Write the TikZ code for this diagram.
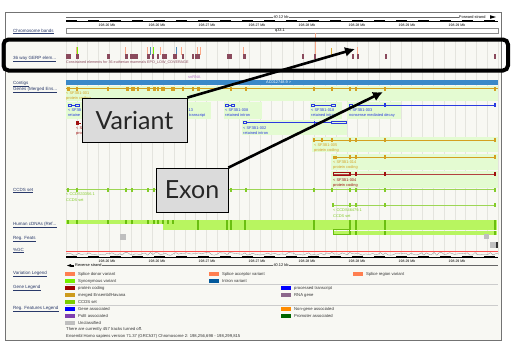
\documentclass[tikz,border=0pt]{standalone}
\usepackage{fontspec}
\setmainfont{Liberation Sans}
\newfontfamily\calfont{Lato}
\usetikzlibrary{arrows.meta}
\definecolor{panelbg}{HTML}{F8F8F3}
\definecolor{gridc}{HTML}{E4E4DE}
\definecolor{lblc}{HTML}{2A3A6A}
\definecolor{gerp}{HTML}{8A4A5C}
\definecolor{contig}{HTML}{3A88C8}
\definecolor{goldc}{HTML}{D4A020}
\definecolor{bgreen}{HTML}{E4FBD2}
\definecolor{tblue}{HTML}{2A3AE0}
\definecolor{tred}{HTML}{A01010}
\definecolor{ccds}{HTML}{84CC2A}
\definecolor{cdna}{HTML}{B8F560}
\definecolor{cdnad}{HTML}{6BBF10}
\definecolor{salmon}{HTML}{F8A888}
\definecolor{snrna}{HTML}{B070C0}
\definecolor{coral}{HTML}{FF7F50}
\definecolor{lime}{HTML}{76EE00}
\definecolor{intronc}{HTML}{02599C}
\definecolor{pcod}{HTML}{A00000}
\definecolor{mergc}{HTML}{CD9B1D}
\definecolor{ccdsl}{HTML}{7CCD00}
\definecolor{rnag}{HTML}{8B668B}
\definecolor{polii}{HTML}{7F3FAF}
\definecolor{nongene}{HTML}{FF8C00}
\definecolor{promo}{HTML}{006400}
\def\ddd{...}
\tikzset{
  tiny/.style={font=\fontsize{3.9}{4.2}\selectfont, inner sep=0pt, anchor=west},
  lbl/.style={font=\fontsize{4.5}{5}\selectfont, inner sep=0pt, anchor=west, text=lblc},
  ulin/.style={lblc, line width=0.25pt},
  leg/.style={font=\fontsize{4.2}{4.6}\selectfont, inner sep=0pt, anchor=west, text=black!80},
  callout/.style={draw=black, line width=0.8pt, fill=black!14, font=\calfont\fontsize{25}{28}\selectfont, inner sep=0pt, text=black!85},
  arr/.style={line width=2.6pt, -{Latex[length=10pt,width=10pt]}},
}
\begin{document}
\begin{tikzpicture}[x=1pt,y=-1pt]
\useasboundingbox (0,0) rectangle (513,346);
\fill[white] (0,0) rectangle (513,346);
% panel
\fill[panelbg, draw=black!55, line width=0.8pt] (5,12) rectangle (501,340);
\fill[white] (5.5,12.5) rectangle (500.5,37);
% grid
\foreach \i in {0,...,40} \draw[gridc, line width=0.4pt] ({66+\i*10.8},40) -- ({66+\i*10.8},255);
% top ruler
\node[tiny, anchor=center] (kbtop) at (281,17) {40.12 kb};
\node[tiny] (fwd) at (459,17) {Forward strand};
\coordinate (rl) at (66,17);
\draw[black!60, line width=0.3pt] (rl) -- (kbtop.west);
\draw[black!60, line width=0.3pt] (kbtop.east) -- (fwd.west);
\fill[black] (490,17) -- ++(0,-1.8) -- ++(6,1.8) -- ++(-6,1.8) -- cycle;
\draw[line width=0.3pt] (66,21) -- (498,21);
\foreach \i in {0,...,19} \fill[black] ({66+\i*22},20) rectangle ++(11,2);
\foreach \x/\t in {107/198.26,157/198.26,207/198.27,257/198.27,307/198.28,357/198.28,407/198.29,457/198.29} \node[tiny, anchor=center, font=\fontsize{3.5}{4}\selectfont] at (\x,25) {\t\ Mb};
% chromosome bands
\draw[black!45, fill=white, line width=0.3pt] (66,28) rectangle (498,33);
\node[tiny, anchor=center] (band) at (280,30.5) {q33.1};
% left labels
\foreach \n/\y/\t in {a/30.5/{Chromosome bands}, b/58/{36 way GERP elem\ddd}, c/83/{Contigs}, d/89.5/{Genes (Merged Ens\ddd}, e/190/{CCDS set}, f/224/{Human cDNAs (Ref\ddd}, g/238/{Reg. Feats}, h/250/{\%GC}, i/273/{Variation Legend}, j/287/{Gene Legend}, k/308/{Reg. Features Legend}}
{ \node[lbl] (L\n) at (13,\y) {\t}; \draw[ulin] ([yshift=-0.6pt]L\n.south west) -- ([yshift=-0.6pt]L\n.south east); }
% GERP
\foreach \x in {76,125,147,160,181,197,200,243} \draw[salmon, line width=0.8pt] (\x,47) -- (\x,55);
\foreach \x in {150,176} \draw[intronc!70, line width=0.7pt] (\x,47) -- (\x,55);
\foreach \x in {77,153} \draw[lime, line width=0.7pt] (\x,47) -- (\x,55);
\draw[salmon, line width=0.8pt] (315,33) -- (315,59);
\draw[goldc!90, line width=0.8pt] (331,48) -- (331,55);
\draw[salmon, line width=0.9pt] (357,47) -- (357,56);
\foreach \x/\w in {66/5,76/3,107/3,125/3,130/8,147/3,152/2,157/2,162/5,173/4,182/2,192/2,195/5,227/5,243/3,302/1.5,314/1.5,352/1.5,357/1.5,385/1.5,494/2} \fill[gerp] (\x,54) rectangle ++(\w,5);
\node[tiny, text=gerp, font=\fontsize{3.7}{4}\selectfont] (gerptxt) at (66,62.5) {Constrained elements for 36 eutherian mammals EPO\_LOW\_COVERAGE};
% contigs
\node[tiny, text=snrna] (snrna) at (188,77) {snRNA};
\fill[contig] (66,80) rectangle (498,85);
\node[tiny, text=white] (ctg) at (266,82.5) {AC012748.9 >};
% gene SF3B1-001
\fill[bgreen] (66,86) rectangle (498,101);
\draw[goldc, line width=0.5pt] (66,88.5) -- (498,88.5);
\foreach \x/\w in {68/3,77/2,108/2,127/3,133/4,138/2,148/3,154/3,158/2,163/4,173/4,183/2,193/2,198/3,231/2,246/2,314/1.5,332/1.5,350/2,356/2,385/2,495/1.5} \fill[goldc] (\x-\w/2,86.5) rectangle ++(\w,4);
\node[tiny, text=goldc] (g1a) at (66,93) {< SF3B1-001};
\node[tiny, text=goldc] (g1b) at (66,98.5) {protein coding};
% blue transcripts row
\fill[bgreen] (66,102) rectangle (211,119);
\fill[bgreen] (224,102) rectangle (262,119);
\fill[bgreen] (310,102) rectangle (342,119);
\fill[bgreen] (347,102) rectangle (401,119);
\fill[bgreen] (242,120) rectangle (347,135);
\draw[tblue, line width=0.4pt] (68,104) rectangle ++(3,2); \draw[tblue, line width=0.4pt] (71,105) -- (75,105); \draw[tblue, line width=0.4pt] (75,104) rectangle ++(4,2);
\node[tiny, text=tblue] (t11a) at (68,110) {< SF3B};
\node[tiny, text=tblue] (t11b) at (68,115.5) {retaine};
\node[tiny, text=tblue] (t13a) at (188.5,110) {13};
\node[tiny, text=tblue] (t13b) at (189,115.5) {transcript};
\draw[tblue, line width=0.4pt] (225,104) rectangle ++(3,2); \draw[tblue, line width=0.4pt] (228,105) -- (231,105); \draw[tblue, line width=0.4pt] (231,104) rectangle ++(3,2);
\node[tiny, text=tblue] (t08a) at (225,110) {< SF3B1-008};
\node[tiny, text=tblue] (t08b) at (225,115.5) {retained intron};
\draw[tblue, line width=0.4pt] (311,104) rectangle ++(3,2); \draw[tblue, line width=0.4pt] (314,105) -- (331,105); \draw[tblue, line width=0.4pt] (331,104) rectangle ++(4,2);
\node[tiny, text=tblue] (t18a) at (311,110) {< SF3B1-018};
\node[tiny, text=tblue] (t18b) at (311,115.5) {retained intron};
\draw[tblue, line width=0.4pt] (349,104) rectangle ++(3,2); \draw[tblue, line width=0.4pt] (352,105) -- (495,105);
\foreach \x in {385,495} \fill[tblue] (\x-0.6,103) rectangle ++(1.2,4);
\node[tiny, text=tblue] (t03a) at (349,110) {< SF3B1-003};
\node[tiny, text=tblue] (t03b) at (349,115.5) {nonsense mediated decay};
\draw[tblue, line width=0.4pt] (243,121.5) rectangle ++(3,2); \draw[tblue, line width=0.4pt] (246,122.5) -- (331,122.5);
\draw[tblue, line width=0.4pt] (331,121.5) rectangle (346,123.5);
\fill[tblue] (313.5,121) rectangle ++(1,3);
\node[tiny, text=tblue] (t02a) at (243,128) {< SF3B1-002};
\node[tiny, text=tblue] (t02b) at (243,133.5) {retained intron};
% red transcript left (mostly hidden)
\fill[tred] (76,121) rectangle ++(3,4);
\draw[tred, line width=0.4pt] (79,123) -- (81,123);
\node[tiny, text=tred] (t06a) at (76,128.5) {< S};
\node[tiny, text=tred] (t06b) at (76,134) {pro};
% SF3B1-005
\fill[bgreen] (312,137) rectangle (498,152);
\draw[goldc, line width=0.5pt] (314,140) -- (495,140);
\foreach \x in {314,322,332,350,356,385,495} \fill[goldc] (\x-1,138) rectangle ++(2,4);
\node[tiny, text=goldc] (t05a) at (314,145) {< SF3B1-005};
\node[tiny, text=goldc] (t05b) at (314,150.5) {protein coding};
% SF3B1-014
\fill[bgreen] (331,154) rectangle (498,170);
\draw[goldc, line width=0.5pt] (333,157) -- (495,157);
\draw[goldc, line width=0.4pt] (333,156) rectangle ++(3,2);
\foreach \x in {350,356,385,495} \fill[goldc] (\x-1,155) rectangle ++(2,4);
\node[tiny, text=goldc] (t14a) at (333,162) {< SF3B1-014};
\node[tiny, text=goldc] (t14b) at (333,167.5) {protein coding};
% SF3B1-004
\fill[bgreen] (331,171) rectangle (498,188);
\draw[tred!80, line width=0.5pt] (333,174) -- (495,174);
\draw[tred, line width=0.4pt] (333,172.5) rectangle (349,175.5);
\foreach \x in {350,356,385,495} \fill[tred] (\x-1,172) rectangle ++(2,4);
\node[tiny, text=tred] (t04a) at (333,180) {< SF3B1-004};
\node[tiny, text=tred] (t04b) at (333,185.5) {protein coding};
% CCDS
\draw[ccds!80, line width=0.5pt] (66,189.5) -- (496,189.5);
\foreach \x in {68,77,108,126,132,148,154,163,173,183,193,198,231,246,314,332,350,356,385,495} \fill[ccds] (\x-1,187.5) rectangle ++(2,4);
\node[tiny, text=ccds] (c1a) at (66,194.5) {< CCDS33356.1};
\node[tiny, text=ccds] (c1b) at (66,200) {CCDS set};
\draw[ccds!80, line width=0.5pt] (333,205) -- (495,205);
\foreach \x in {333,350,356,385,495} \fill[ccds] (\x-0.8,203) rectangle ++(1.6,4);
\node[tiny, text=ccds] (c2a) at (333,210.5) {< CCDS46479.1};
\node[tiny, text=ccds] (c2b) at (333,216) {CCDS set};
% cDNA
\fill[cdna] (66,220) rectangle (163,224);
\fill[cdna] (163,220) rectangle (497,229.5);
\fill[cdna] (333,231) rectangle (497,234.5);
\draw[cdnad, line width=0.4pt] (333,229.5) rectangle (349,234.5);
\foreach \x in {68,77,108,126,132,148,154,158,163,168,173} \fill[cdnad] (\x-1,220) rectangle ++(2,3.5);
\foreach \x in {198,227,231,245,314,350,356,385,495} \fill[cdnad] (\x-0.8,219.5) rectangle ++(1.6,10);
\foreach \x in {350,356,385,495} \fill[cdnad] (\x-0.8,230.5) rectangle ++(1.6,4.5);
% Reg feats
\fill[black!25] (120,234) rectangle (126,239.5);
\fill[black!25] (484,234) rectangle (489,239);
\fill[black!25] (490,242) rectangle (497,248);
\fill[black!80] (496,242) rectangle (497.5,248);
% GC
\draw[red!70, line width=0.4pt] (66,251) -- (498,251);
\pgfmathsetseed{7}
\draw[black!45, line width=0.3pt] plot[domain=66:498, samples=170] (\x,{253.8+1.4*rand});
% bottom ruler
\draw[line width=0.3pt] (66,257) -- (498,257);
\foreach \i in {0,...,19} \fill[black] ({66+\i*22},256) rectangle ++(11,2);
\foreach \x/\t in {107/198.26,157/198.26,207/198.27,257/198.27,307/198.28,357/198.28,407/198.29,457/198.29} \node[tiny, anchor=center, font=\fontsize{3.5}{4}\selectfont] at (\x,261.5) {\t\ Mb};
\fill[black] (67,265.5) -- ++(4,-1.5) -- ++(0,3) -- cycle;
\fill[black] (71,264.5) rectangle ++(3,2);
\node[tiny] (rev) at (75,265.5) {Reverse strand};
\node[tiny, anchor=center] (kbbot) at (281,265.5) {40.12 kb};
\coordinate (br) at (498,265.5);
\draw[black!60, line width=0.3pt] (rev.east) -- (kbbot.west);
\draw[black!60, line width=0.3pt] (kbbot.east) -- (br);
% legends
\draw[black!20, line width=0.4pt] (66,284) -- (498,284);
\draw[black!20, line width=0.4pt] (66,305) -- (498,305);
\foreach \n/\x/\y/\c/\t in {v1/65/274/coral/{Splice donor variant}, v2/65/281/lime/{Synonymous variant}, v3/209/274/coral/{Splice acceptor variant}, v4/209/281/intronc/{Intron variant}, v5/353/274/coral/{Splice region variant}, g1/65/288/pcod/{protein coding}, g2/65/295/mergc/{merged Ensembl/Havana}, g3/65/302/ccdsl/{CCDS set}, g4/281/288/blue/{processed transcript}, g5/281/295/rnag/{RNA gene}, r1/65/309/blue/{Gene associated}, r2/65/316/polii/{PolII associated}, r3/65/322.5/black!25/{Unclassified}, r4/281/309/nongene/{Non-gene associated}, r5/281/316/promo/{Promoter associated}}
{ \fill[\c] (\x,\y-2) rectangle ++(10,4); \node[leg] (S\n) at (\x+13,\y) {\t}; }
\node[leg] (foot1) at (66,329) {There are currently 457 tracks turned off.};
\node[leg] (foot2) at (66,336) {Ensembl Homo sapiens version 71.37 (GRCh37) Chromosome 2: 198,256,698 - 198,299,815};
% highlight
\draw[black, line width=4pt, rounded corners=5pt] (3.5,39.5) rectangle (508,70.5);
% callouts
\coordinate (tipA) at (355,49);
\coordinate (tipB) at (383,92);
\node[callout, minimum width=105pt, minimum height=44pt] (var) at (134.5,120) {Variant};
\node[callout, minimum width=72pt, minimum height=44pt] (exon) at (192,190) {Exon};
\draw[arr] (var.north east) -- (tipA);
\draw[arr] (exon.north east) -- (tipB);
\end{tikzpicture}
\end{document}
